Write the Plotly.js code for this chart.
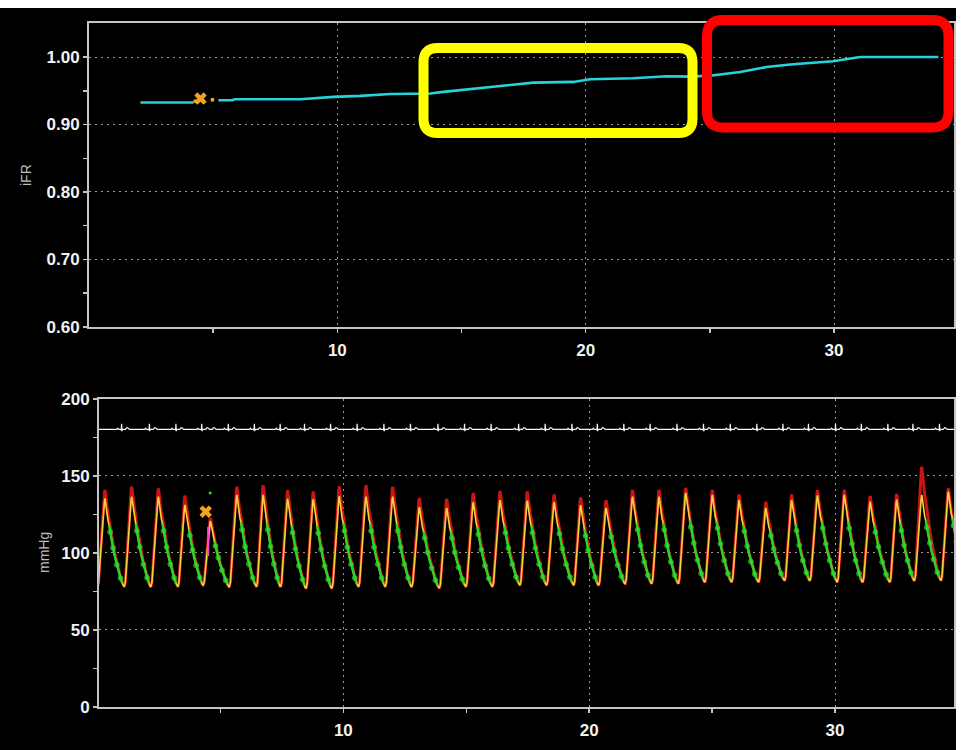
<!DOCTYPE html>
<html>
<head>
<meta charset="utf-8">
<script src="https://cdn.plot.ly/plotly-3.0.1.min.js"></script>
<style>
  html, body { margin: 0; padding: 0; background: #ffffff; }
  #chart { position: absolute; left: 0; top: 8px; width: 956px; height: 742px; background: #000; }
</style>
</head>
<body>
<div id="chart"></div>
<script>
// ---- iFR trend (top panel) ----
const ifrTime  = [2.07, 4.21, null, 5.21, 5.78, 5.86, 8.51, 9.85, 10.93, 12.13, 13.74, 14.27, 15.23, 16.04, 16.96, 17.89, 19.50, 20.18, 21.91, 23.00, 23.28, 24.21, 25.08, 26.22, 27.29, 28.23, 29.15, 29.96, 31.05, 34.20];
const ifrValue = [0.9325, 0.9325, null, 0.9360, 0.9360, 0.9374, 0.9374, 0.9409, 0.9424, 0.9453, 0.9459, 0.9483, 0.9518, 0.9547, 0.9582, 0.9621, 0.9631, 0.9670, 0.9685, 0.9700, 0.9715, 0.9710, 0.9725, 0.9779, 0.9853, 0.9888, 0.9912, 0.9937, 1.0000, 1.0000];
const ifrRejectTime  = 4.49;
const ifrRejectValue = 0.9385;
const ifrRejectDotsTime  = [4.28, 4.97];
const ifrRejectDotsValue = [0.9345, 0.9365];

// ---- Beat-by-beat pressure readings (bottom panel), seconds / mmHg ----
const beatPeakTime = [0.305, 1.391, 2.474, 3.560, 4.597, 5.663, 6.745, 7.738, 8.780, 9.837, 10.923, 12.010, 13.092, 14.207, 15.289, 16.375, 17.486, 18.572, 19.658, 20.688, 21.766, 22.844, 23.930, 25.012, 26.099, 27.185, 28.243, 29.284, 30.383, 31.428, 32.514, 33.531, 34.613];
const pdSystolic   = [135.5, 136.6, 136.6, 131.0, 121.0, 137.7, 137.7, 135.5, 135.0, 136.6, 136.6, 136.6, 130.0, 129.0, 133.0, 134.0, 134.0, 133.0, 131.0, 129.0, 136.6, 136.6, 138.7, 137.7, 134.4, 129.0, 134.4, 137.7, 137.7, 133.3, 134.4, 137.7, 139.8];
const paSystolic   = [141, 143, 142, 137, 123, 143, 144, 141, 140, 143, 144, 143, 136, 135, 139, 140, 140, 138, 136, 134, 141, 141, 142, 141, 138, 133, 138, 141, 141, 137, 138, 156, 142];
const diastolic    = [78, 78, 78, 78, 79, 78, 78, 78, 77, 77, 78, 78, 78, 77, 78, 78, 79, 79, 79, 79, 80, 80, 80, 81, 81, 81, 82, 82, 81, 81, 81, 82, 82];

// one pressure pulse, foot to foot: phase (0..1) and normalised height
const pulsePhase = [0, 0.04, 0.10, 0.16, 0.22, 0.26, 0.28, 0.31, 0.35, 0.39, 0.43, 0.47, 0.52, 0.58, 0.65, 0.72, 0.79, 0.86, 0.93, 0.97];
const pulseShape = [0, 0.05, 0.32, 0.60, 0.85, 0.97, 1.00, 0.93, 0.82, 0.75, 0.70, 0.62, 0.53, 0.44, 0.34, 0.25, 0.17, 0.10, 0.04, 0.01];
const peakPhase = 0.28;
// wave-free window of each pulse (index range into the pulse) and its sample dots
const wfpStart = 10, wfpEnd = 18;
const wfpDots = [11, 13, 15, 17];

// rejected beat marks
const rejectLineTime = [4.50, 4.50];
const rejectLineP    = [98, 117];
const rejectXTime = 4.40, rejectXP = 126.8;
const rejectDotTime = 4.58, rejectDotP = 139;

// ---- ECG (drawn at 180 mmHg on the pressure scale) ----
const ecgBase = 180.3;
const ecgRTime = [0.98, 2.11, 3.19, 4.24, 4.51, 5.32, 6.38, 7.43, 8.42, 9.48, 10.56, 11.65, 12.73, 13.85, 14.93, 16.01, 17.13, 18.21, 19.30, 20.33, 21.41, 22.48, 23.57, 24.65, 25.74, 26.82, 27.88, 28.92, 30.02, 31.07, 32.15, 33.17, 34.25];
const ecgOffset = [-0.20, -0.16, -0.12, -0.03, -0.015, 0, 0.015, 0.03, 0.16, 0.21, 0.26, 0.31];
const ecgShape  = [0, 0.7, 0, 0, -0.6, 3.6, -1.2, 0, 0, 1.1, 0.9, 0];

const X_START = 0.06, X_END = 34.84;

// ---- build the pressure curves from the beat readings ----
function beatFeet() {
  const feet = [];
  for (let k = 0; k < beatPeakTime.length; k++) {
    const T = k < beatPeakTime.length - 1 ? beatPeakTime[k + 1] - beatPeakTime[k] : beatPeakTime[k] - beatPeakTime[k - 1];
    feet.push(beatPeakTime[k] - peakPhase * T);
  }
  const last = beatPeakTime.length - 1;
  feet.push(feet[last] + (beatPeakTime[last] - beatPeakTime[last - 1]));
  return feet;
}
const feet = beatFeet();

function pressureCurve(systolic) {
  const xs = [], ys = [];
  for (let k = 0; k < beatPeakTime.length; k++) {
    const f0 = feet[k], f1 = feet[k + 1];
    const d0 = diastolic[k], d1 = diastolic[Math.min(k + 1, diastolic.length - 1)];
    for (let j = 0; j < pulsePhase.length; j++) {
      const p = pulsePhase[j];
      xs.push(f0 + p * (f1 - f0));
      ys.push(d0 + (d1 - d0) * p + (systolic[k] - d0) * pulseShape[j]);
    }
  }
  return { xs, ys };
}
const pd = pressureCurve(pdSystolic);
const pa = pressureCurve(paSystolic);

// wave-free segments of the distal curve
const wfpX = [], wfpY = [], wfpSize = [];
for (let k = 0; k < beatPeakTime.length; k++) {
  for (let j = wfpStart; j <= wfpEnd; j++) {
    const i = k * pulsePhase.length + j;
    wfpX.push(pd.xs[i]); wfpY.push(pd.ys[i]);
    wfpSize.push(wfpDots.includes(j) ? 5 : 0);
  }
  wfpX.push(null); wfpY.push(null); wfpSize.push(0);
}

// ECG trace
const ecgX = [X_START], ecgY = [ecgBase];
ecgRTime.forEach(r => {
  for (let j = 0; j < ecgOffset.length; j++) {
    const t = r + ecgOffset[j];
    if (t > ecgX[ecgX.length - 1] && t < X_END) { ecgX.push(t); ecgY.push(ecgBase + ecgShape[j]); }
  }
});
ecgX.push(X_END); ecgY.push(ecgBase);

// ---- page-pixel helpers for frames and side titles ----
const PLOT_L = 89, PLOT_R = 954, PLOT_T = 23, PLOT_B = 707;
const px = v => (v - PLOT_L) / (PLOT_R - PLOT_L);
const py = v => (PLOT_B - v) / (PLOT_B - PLOT_T);
function roundedFrame(x1, y1, x2, y2, r) {
  const X = px, Y = py, rx = r;
  return 'M' + X(x1 + rx) + ',' + Y(y1) +
    ' L' + X(x2 - rx) + ',' + Y(y1) +
    ' Q' + X(x2) + ',' + Y(y1) + ' ' + X(x2) + ',' + Y(y1 + rx) +
    ' L' + X(x2) + ',' + Y(y2 - rx) +
    ' Q' + X(x2) + ',' + Y(y2) + ' ' + X(x2 - rx) + ',' + Y(y2) +
    ' L' + X(x1 + rx) + ',' + Y(y2) +
    ' Q' + X(x1) + ',' + Y(y2) + ' ' + X(x1) + ',' + Y(y2 - rx) +
    ' L' + X(x1) + ',' + Y(y1 + rx) +
    ' Q' + X(x1) + ',' + Y(y1) + ' ' + X(x1 + rx) + ',' + Y(y1) + ' Z';
}

const tickFont = { family: 'Liberation Sans, Arial, sans-serif', size: 17, color: '#f2f2f2', weight: 'bold' };
const titleFont = { family: 'Liberation Sans, Arial, sans-serif', size: 14, color: '#bdbdbd' };
const axisLine = '#c4c4c4';
const gridCol = '#9c9c9c';

const traces = [
  { x: ifrTime, y: ifrValue, xaxis: 'x', yaxis: 'y', mode: 'lines', line: { color: '#27d3db', width: 2.6 }, connectgaps: false },
  { x: ifrRejectDotsTime, y: ifrRejectDotsValue, xaxis: 'x', yaxis: 'y', mode: 'markers', marker: { color: '#f5a21c', size: 4 } },
  { x: [ifrRejectTime], y: [ifrRejectValue], xaxis: 'x', yaxis: 'y', mode: 'markers', marker: { color: '#f5a21c', size: 11, symbol: 'x' } },

  { x: pa.xs, y: pa.ys, xaxis: 'x2', yaxis: 'y2', mode: 'lines', line: { color: '#c91414', width: 3 } },
  { x: pd.xs, y: pd.ys, xaxis: 'x2', yaxis: 'y2', mode: 'lines', line: { color: '#f3d43c', width: 1.6 } },
  { x: wfpX, y: wfpY, xaxis: 'x2', yaxis: 'y2', mode: 'lines+markers', line: { color: '#26d526', width: 2.4 }, marker: { color: '#33e033', size: wfpSize }, connectgaps: false },
  { x: ecgX, y: ecgY, xaxis: 'x2', yaxis: 'y2', mode: 'lines', line: { color: '#f4f4f4', width: 1.2 } },
  { x: rejectLineTime, y: rejectLineP, xaxis: 'x2', yaxis: 'y2', mode: 'lines', line: { color: '#f04ac8', width: 2 } },
  { x: [rejectXTime], y: [rejectXP], xaxis: 'x2', yaxis: 'y2', mode: 'markers', marker: { color: '#f5a21c', size: 11, symbol: 'x' } },
  { x: [rejectDotTime], y: [rejectDotP], xaxis: 'x2', yaxis: 'y2', mode: 'markers', marker: { color: '#33e033', size: 3 } }
];

const commonX = {
  tickvals: [10, 20, 30], ticktext: ['10', '20', '30'],
  ticks: 'outside', ticklen: 4, tickcolor: axisLine, tickwidth: 1.5, ticklabelstandoff: 3,
  minor: { tickvals: [5, 15, 25], ticks: 'outside', ticklen: 4, tickcolor: axisLine, showgrid: false },
  showline: true, linecolor: axisLine, linewidth: 2, mirror: true,
  showgrid: true, gridcolor: gridCol, griddash: '2px,4px', gridwidth: 1,
  zeroline: false, tickfont: tickFont, fixedrange: true
};
const commonY = {
  ticks: 'outside', ticklen: 4, tickcolor: axisLine, tickwidth: 1.5,
  showline: true, linecolor: axisLine, linewidth: 2, mirror: true,
  showgrid: true, gridcolor: gridCol, griddash: '2px,4px', gridwidth: 1,
  zeroline: false, tickfont: tickFont, fixedrange: true
};

const layout = {
  width: 956, height: 742,
  margin: { l: 89, r: 2, t: 15, b: 43 },
  paper_bgcolor: '#000000', plot_bgcolor: '#000000',
  showlegend: false,
  xaxis: Object.assign({}, commonX, { domain: [0, 1], anchor: 'y', range: [0, 34.83] }),
  yaxis: Object.assign({}, commonY, {
    domain: [0.5556, 1], anchor: 'x', range: [0.6, 1.0504],
    tickvals: [0.6, 0.7, 0.8, 0.9, 1.0], ticktext: ['0.60', '0.70', '0.80', '0.90', '1.00'],
    minor: { tickvals: [0.65, 0.75, 0.85, 0.95], ticks: 'outside', ticklen: 4, tickcolor: axisLine, showgrid: false }
  }),
  xaxis2: Object.assign({}, commonX, { domain: [0.01156, 1], anchor: 'y2', range: [X_START, X_END] }),
  yaxis2: Object.assign({}, commonY, {
    domain: [0, 0.4503], anchor: 'x2', range: [0, 200],
    tickvals: [0, 50, 100, 150, 200], ticktext: ['0', '50', '100', '150', '200'],
    minor: { tickvals: [25, 75, 125, 175], ticks: 'outside', ticklen: 4, tickcolor: axisLine, showgrid: false }
  }),
  annotations: [
    { text: 'iFR', xref: 'paper', yref: 'paper', x: px(26), y: py(175), xanchor: 'center', yanchor: 'middle', textangle: -90, showarrow: false, font: titleFont },
    { text: 'mmHg', xref: 'paper', yref: 'paper', x: px(44), y: py(553), xanchor: 'center', yanchor: 'middle', textangle: -90, showarrow: false, font: titleFont }
  ],
  shapes: [
    { type: 'path', xref: 'paper', yref: 'paper', path: roundedFrame(423.5, 48, 692.5, 133, 14), line: { color: '#ffff00', width: 10 }, layer: 'above' },
    { type: 'path', xref: 'paper', yref: 'paper', path: roundedFrame(707, 20, 948.5, 127.5, 16), line: { color: '#ff0000', width: 10 }, layer: 'above' }
  ]
};

Plotly.newPlot('chart', traces, layout, { staticPlot: true, displayModeBar: false });
</script>
</body>
</html>
